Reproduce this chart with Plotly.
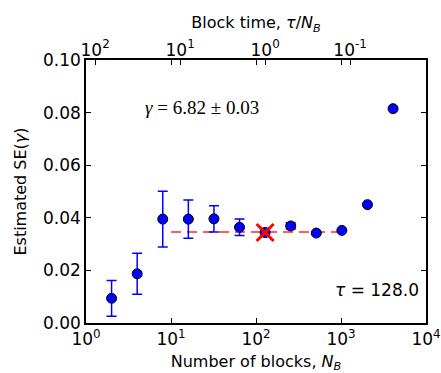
import plotly.graph_objects as go
import numpy as np

# Data
n_blocks = [2, 4, 8, 16, 32, 64, 128, 256, 512, 1024, 2048, 4096]
se_gamma = [0.0094, 0.0187, 0.0395, 0.0395, 0.0396, 0.0364, 0.0344, 0.0369, 0.0342, 0.0352, 0.0450, 0.0815]
se_err = [0.0068, 0.0078, 0.0106, 0.0073, 0.0050, 0.0031, 0.0015, 0.0012, 0.0, 0.0, 0.0, 0.0]
tau = 128.0
plateau_x = [10, 1000]
plateau_y = [0.0346, 0.0346]
chosen_n = [128]
chosen_se = [0.0344]
y_ticks = [0.0, 0.02, 0.04, 0.06, 0.08, 0.10]
x_ticks = [1, 10, 100, 1000, 10000]
x_ticktext = ["10<sup>0</sup>", "10<sup>1</sup>", "10<sup>2</sup>", "10<sup>3</sup>", "10<sup>4</sup>"]
top_ticks = [100, 10, 1, 0.1]
top_ticktext = ["10<sup>2</sup>", "10<sup>1</sup>", "10<sup>0</sup>", "10<sup>-1</sup>"]

FONT = "DejaVu Sans"
fig = go.Figure()

fig.add_trace(go.Scatter(
    x=plateau_x, y=plateau_y, mode="lines",
    line=dict(color="rgba(255,0,0,0.85)", width=1.5, dash="10px,6px"),
    showlegend=False, hoverinfo="skip"))

fig.add_trace(go.Scatter(
    x=n_blocks, y=se_gamma, mode="markers",
    marker=dict(color="#0000ff", size=10, line=dict(color="black", width=1)),
    error_y=dict(type="data", array=se_err, color="#0000ff", thickness=1.5, width=5),
    showlegend=False))

fig.add_trace(go.Scatter(
    x=chosen_n, y=chosen_se, mode="markers",
    marker=dict(symbol="x-thin", size=17, line=dict(color="red", width=3)),
    showlegend=False))

# invisible trace for top axis (block time)
fig.add_trace(go.Scatter(
    x=[tau / n for n in n_blocks], y=se_gamma, xaxis="x2", mode="markers",
    marker=dict(opacity=0), showlegend=False, hoverinfo="skip"))

axis_common = dict(showgrid=False, zeroline=False, ticks="inside", ticklen=5,
                   tickwidth=1, tickcolor="black", linecolor="black", linewidth=1.5,
                   automargin=False,
                   tickfont=dict(family=FONT, size=17, color="black"))

fig.update_layout(
    width=441, height=373,
    margin=dict(l=86, r=15, t=60, b=50),
    paper_bgcolor="white", plot_bgcolor="white",
    xaxis=dict(type="log", range=[0, 4], tickvals=x_ticks, ticktext=x_ticktext,
               showline=True, mirror="ticks",
               title=dict(text="Number of blocks, <i>N</i><sub><i>B</i></sub>",
                          font=dict(family=FONT, size=16, color="black"), standoff=10),
               **axis_common),
    xaxis2=dict(type="log", overlaying="x", side="top",
                range=[np.log10(tau / 1), np.log10(tau / 1e4)],
                tickvals=top_ticks, ticktext=top_ticktext, showline=False,
                title=dict(text="Block time, <i>τ</i>/<i>N</i><sub><i>B</i></sub>",
                           font=dict(family=FONT, size=16, color="black"), standoff=4),
                **axis_common),
    yaxis=dict(range=[0, 0.10], tickvals=y_ticks, tickformat=".2f",
               showline=True, mirror="ticks",
               title=dict(text="Estimated SE(<i>γ</i>)",
                          font=dict(family=FONT, size=16, color="black"), standoff=12),
               **axis_common),
    annotations=[
        dict(text="<i>γ</i> = 6.82 ± 0.03", xref="paper", yref="paper",
             x=0.341, y=0.819, xanchor="center", yanchor="middle", showarrow=False,
             font=dict(family="Liberation Serif", size=19, color="black")),
        dict(text="<i>τ</i> = 128.0", xref="paper", yref="paper",
             x=0.985, y=0.125, xanchor="right", yanchor="middle", showarrow=False,
             font=dict(family=FONT, size=17, color="black")),
    ],
)

fig.write_html("out.html")
